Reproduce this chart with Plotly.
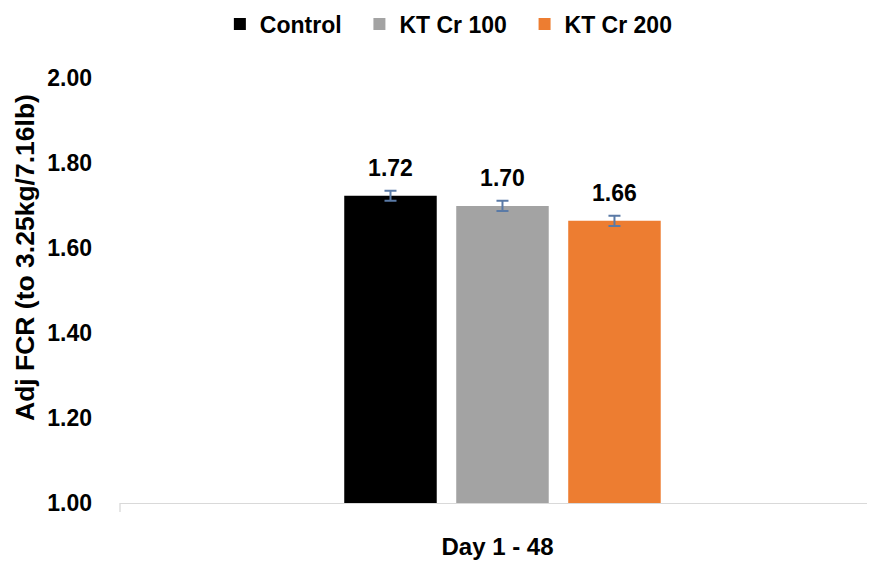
import plotly.graph_objects as go

categories = ["Day 1 - 48"]
series_names = ["Control", "KT Cr 100", "KT Cr 200"]
series_values = [1.723, 1.699, 1.664]
series_errors = [0.012, 0.012, 0.012]
series_labels = ["1.72", "1.70", "1.66"]
series_colors = ["#000000", "#a3a3a3", "#ED7D31"]
y_ticks = [1.0, 1.2, 1.4, 1.6, 1.8, 2.0]

FONT = "Liberation Sans, Arial, sans-serif"
BARGAP = 0.555
PAD = "\u00a0\u00a0"

fig = go.Figure()
for i, (name, val, err, col) in enumerate(zip(series_names, series_values, series_errors, series_colors)):
    fig.add_trace(go.Bar(
        x=categories, y=[val], name=name + (PAD if i < len(series_names) - 1 else ""),
        marker=dict(color=col, line=dict(width=0)),
        error_y=dict(type="data", array=[err], color="#5a7aa6", thickness=2, width=6),
        hoverinfo="skip",
    ))
for name, val, err, lab in zip(series_names, series_values, series_errors, series_labels):
    fig.add_trace(go.Scatter(
        x=categories, y=[val + err], mode="markers+text", text=[lab],
        textposition="top center",
        textfont=dict(family=FONT, size=23, color="#000000", weight="bold"),
        marker=dict(size=13, color="rgba(0,0,0,0)"),
        showlegend=False, hoverinfo="skip", cliponaxis=False,
    ))

fig.update_layout(
    width=867, height=553,
    paper_bgcolor="white", plot_bgcolor="white",
    margin=dict(l=112, r=0, t=70, b=58),
    barmode="group", bargap=BARGAP, bargroupgap=0.174,
    scattermode="group", scattergap=BARGAP,
    showlegend=True,
    legend=dict(orientation="h", xref="container", yref="container",
                x=0.5085, xanchor="center", y=0.971, yanchor="middle",
                font=dict(family=FONT, size=23, color="#000000", weight="bold"),
                itemclick=False, itemdoubleclick=False),
    xaxis=dict(
        type="category", range=[-0.5066, 0.4934],
        showline=True, linecolor="#d9d9d9", linewidth=1.3,
        showticklabels=False, ticks="", showgrid=False, zeroline=False,
        title=dict(text="Day 1 - 48", standoff=35,
                   font=dict(family=FONT, size=24, color="#000000", weight="bold")),
        automargin=False,
    ),
    yaxis=dict(
        range=[1.0, 2.0], tickvals=y_ticks, tickformat=".2f",
        showgrid=False, zeroline=False, showline=False, ticks="",
        ticklabelstandoff=27,
        tickfont=dict(family=FONT, size=23, color="#000000", weight="bold"),
        automargin=False,
    ),
    shapes=[dict(type="line", xref="paper", yref="paper", x0=0, x1=0, y0=0, y1=-9 / 425,
                 line=dict(color="#d9d9d9", width=1.3))],
    annotations=[dict(text="Adj FCR (to 3.25kg/7.16lb)", xref="paper", yref="paper",
                      x=0, xshift=-95, y=(502 - 257) / 425, xanchor="center", yanchor="middle",
                      textangle=-90, showarrow=False,
                      font=dict(family=FONT, size=26.5, color="#000000", weight="bold"))],
)

fig.write_html("out.html")
